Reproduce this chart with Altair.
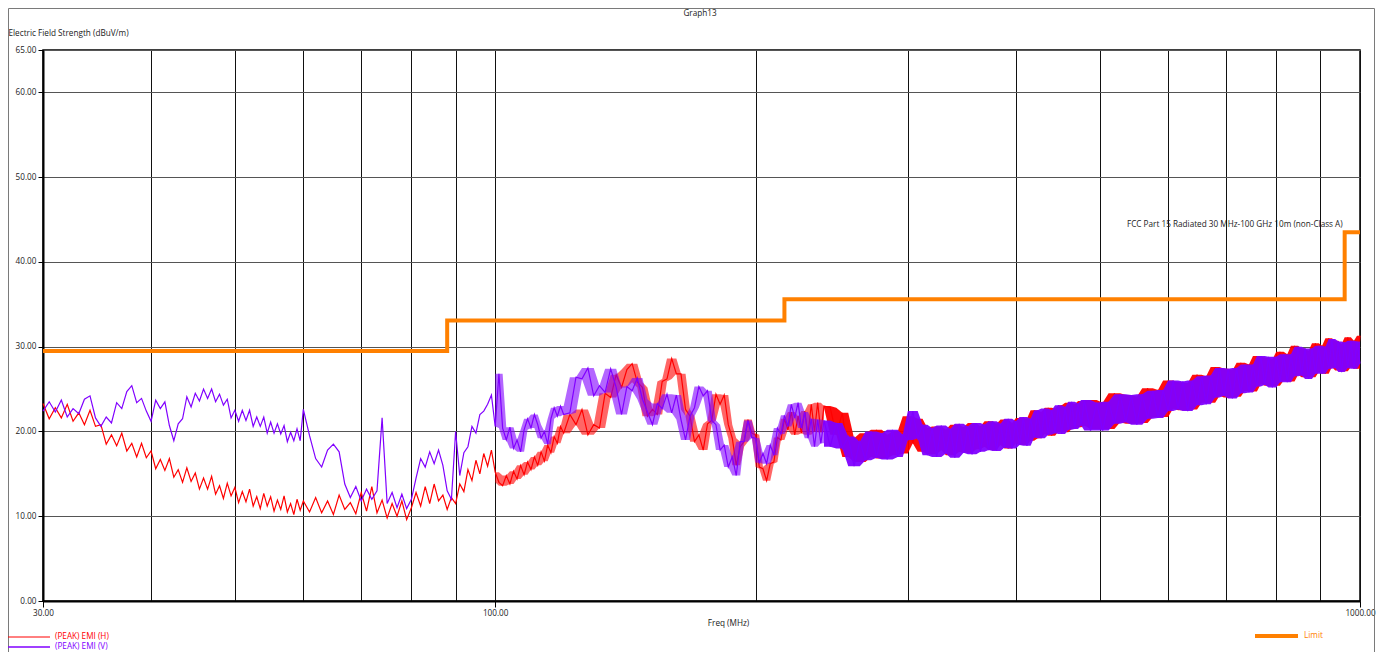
import altair as alt
import pandas as pd

# ---------------- sweep frequencies (MHz) ----------------
FREQ_30_60 = [30.0, 30.5, 31.0, 31.5, 32.0, 32.5, 33.0, 33.5, 34.0, 34.5, 35.0, 35.5,
              36.0, 36.5, 37.0, 37.5, 38.0, 38.5, 39.0, 39.5, 40.0, 40.5, 41.0, 41.5,
              42.0, 42.5, 43.0, 43.5, 44.0, 44.5, 45.0, 45.5, 46.0, 46.5, 47.0, 47.5,
              48.0, 48.5, 49.0, 49.5, 50.0, 50.5, 51.0, 51.5, 52.0, 52.5, 53.0, 53.5,
              54.0, 54.5, 55.0, 55.5, 56.0, 56.5, 57.0, 57.5, 58.0, 58.5, 59.0, 59.5, 60.0]
FREQ_61_120 = [61, 62, 63, 64, 65, 66, 67, 68, 69, 70, 71, 72, 73, 74, 75, 76, 77, 78, 79, 80,
               81, 82, 83, 84, 85, 86, 87, 88, 89, 90, 91, 92, 93, 94, 95, 96, 97, 98, 99, 100,
               101, 102, 103, 104, 105, 106, 107, 108, 109, 110, 111, 112, 113, 114, 115, 116,
               117, 118, 119, 120]
FREQ_122_240 = [122, 124, 126, 128, 130, 132, 134, 136, 138, 140, 142, 144, 146, 148, 150,
                152, 154, 156, 158, 160, 162, 164, 166, 168, 170, 172, 174, 176, 178, 180,
                182, 184, 186, 188, 190, 192, 194, 196, 198, 200, 202, 204, 206, 208, 210,
                212, 214, 216, 218, 220, 222, 224, 226, 228, 230, 232, 234, 236, 238, 240]
FREQ_244_480 = [244, 248, 252, 256, 260, 264, 268, 272, 276, 280, 284, 288, 292, 296, 300,
                304, 308, 312, 316, 320, 324, 328, 332, 336, 340, 344, 348, 352, 356, 360,
                364, 368, 372, 376, 380, 384, 388, 392, 396, 400, 404, 408, 412, 416, 420,
                424, 428, 432, 436, 440, 444, 448, 452, 456, 460, 464, 468, 472, 476, 480]
FREQ_488_1000 = [488, 496, 504, 512, 520, 528, 536, 544, 552, 560, 568, 576, 584, 592, 600,
                 608, 616, 624, 632, 640, 648, 656, 664, 672, 680, 688, 696, 704, 712, 720,
                 728, 736, 744, 752, 760, 768, 776, 784, 792, 800, 808, 816, 824, 832, 840,
                 848, 856, 864, 872, 880, 888, 896, 904, 912, 920, 928, 936, 944, 952, 960,
                 968, 976, 984, 992, 1000]

# ---------------- (PEAK) EMI (H) levels, dBuV/m ----------------
H_30_60 = [23.3, 21.5, 22.8, 21.6, 23.2, 21.2, 22.2, 20.8, 22.5, 20.6,
           20.8, 18.5, 19.6, 18.3, 19.8, 17.7, 18.6, 17.0, 18.6, 16.9,
           17.7, 15.6, 16.7, 15.4, 16.8, 14.6, 15.5, 14.0, 15.7, 14.1,
           15.1, 13.2, 14.5, 13.2, 14.7, 12.6, 13.6, 12.1, 13.9, 12.4,
           13.4, 11.6, 12.9, 11.7, 13.2, 11.2, 12.3, 10.9, 12.7, 11.2,
           12.3, 10.6, 11.9, 10.8, 12.4, 10.5, 11.5, 10.2, 12.0, 10.7, 11.8]
H_61_120 = [10.5, 12.2, 10.4, 11.8, 10.2, 12.5, 10.8, 11.6, 10.3, 12.8,
            10.6, 13.5, 10.4, 11.9, 9.8, 11.5, 10.0, 11.8, 9.6, 11.0,
            12.8, 11.2, 13.5, 11.5, 13.8, 11.8, 12.5, 10.8, 12.2, 11.5,
            13.8, 12.9, 15.5, 14.2, 16.6, 15.0, 17.4, 15.9, 17.8, 15.2,
            14.0, 13.6, 14.8, 13.8, 15.3, 14.4, 16.0, 14.9, 16.4, 15.5,
            17.0, 16.0, 17.6, 16.5, 18.4, 17.5, 19.4, 18.6, 20.6, 19.8]
H_122_240 = [22.0, 20.8, 22.6, 19.6, 20.8, 20.4, 24.5, 24.0, 26.7, 25.2,
             27.3, 28.0, 25.8, 25.2, 21.8, 22.6, 22.0, 25.9, 26.2, 28.6,
             26.8, 26.8, 22.6, 21.8, 18.8, 19.6, 17.8, 20.9, 21.3, 24.4,
             23.2, 24.3, 20.8, 19.2, 16.0, 18.2, 18.8, 21.4, 19.8, 19.6,
             15.8, 15.6, 14.2, 16.2, 16.4, 19.3, 19.0, 21.5, 20.2, 22.3,
             19.6, 21.8, 19.8, 22.4, 19.6, 23.2, 20.0, 23.4, 19.9, 23.0]
H_244_480 = [22.8, 19.6, 22.2, 17.0, 19.2, 16.4, 19.8, 17.0, 20.2, 16.8,
             19.6, 17.2, 20.0, 17.4, 21.8, 18.6, 21.5, 17.6, 20.4, 17.3,
             20.6, 17.8, 20.2, 17.2, 20.8, 17.6, 20.5, 17.5, 21.0, 17.9,
             20.6, 18.2, 21.2, 17.8, 20.9, 18.4, 21.4, 18.0, 21.0, 18.6,
             21.6, 18.4, 21.5, 18.9, 22.5, 19.2, 22.3, 19.7, 22.8, 19.5,
             22.7, 20.0, 23.1, 19.9, 23.4, 20.3, 23.2, 20.5, 23.6, 20.7]
H_488_1000 = [23.7, 20.3, 23.4, 20.3, 24.5, 21.1, 24.3, 20.9, 24.1, 21.0,
              25.1, 21.7, 24.9, 21.7, 26.0, 22.7, 25.8, 22.5, 25.7, 22.6,
              26.7, 23.4, 26.5, 23.4, 27.6, 24.2, 27.4, 24.0, 27.2, 24.1,
              28.1, 24.8, 27.9, 24.7, 28.9, 25.6, 28.7, 25.4, 28.5, 25.4,
              29.4, 26.0, 29.1, 25.9, 30.1, 26.7, 29.8, 26.4, 29.5, 26.4,
              30.4, 27.0, 30.1, 26.8, 31.0, 27.6, 30.7, 27.2, 30.3, 27.1,
              31.1, 27.6, 30.7, 27.4, 31.3]

# ---------------- (PEAK) EMI (V) levels, dBuV/m ----------------
V_30_60 = [22.4, 23.5, 22.3, 23.7, 21.7, 22.7, 22.1, 23.8, 24.2, 21.6,
           20.6, 21.7, 21.0, 23.4, 22.7, 24.7, 25.4, 23.4, 23.9, 22.4,
           21.2, 23.7, 22.7, 23.5, 20.7, 18.9, 20.9, 21.5, 24.1, 22.9,
           24.5, 23.6, 25.0, 23.9, 25.0, 23.5, 24.4, 23.1, 23.8, 21.6,
           22.5, 21.2, 22.5, 21.3, 22.5, 20.6, 21.7, 20.6, 21.7, 19.8,
           21.1, 19.8, 20.9, 19.7, 20.7, 18.8, 19.9, 18.9, 20.3, 18.9, 22.6]
V_61_120 = [19.5, 16.8, 15.8, 17.8, 18.5, 17.6, 13.8, 12.2, 13.5, 11.8,
            13.2, 12.0, 13.0, 21.6, 11.5, 12.8, 11.0, 12.6, 10.9, 12.0,
            14.5, 16.8, 15.8, 17.6, 16.2, 17.8, 16.0, 13.0, 12.0, 20.0,
            14.8, 17.5, 18.2, 20.6, 19.8, 22.0, 22.4, 23.2, 24.3, 20.6,
            26.8, 20.4, 19.0, 20.5, 18.0, 19.0, 17.6, 20.2, 21.5, 20.4,
            22.0, 20.8, 19.2, 20.0, 18.5, 21.5, 22.8, 21.8, 23.0, 22.0]
V_122_240 = [22.2, 26.4, 26.2, 27.5, 24.2, 25.4, 24.6, 27.4, 25.2, 22.0,
             25.3, 24.8, 26.3, 23.8, 22.3, 20.8, 23.3, 22.7, 24.4, 22.2,
             24.3, 21.4, 19.0, 21.8, 22.8, 25.3, 24.2, 24.8, 21.3, 20.8,
             17.8, 18.4, 15.8, 17.0, 14.8, 18.8, 18.8, 21.3, 19.3, 19.2,
             16.3, 17.4, 16.2, 18.4, 17.2, 20.4, 19.7, 21.9, 20.6, 23.2,
             21.6, 23.4, 20.4, 22.3, 19.2, 21.5, 18.2, 21.4, 18.6, 21.3]
V_244_480 = [18.2, 21.0, 18.0, 19.4, 15.9, 18.8, 16.6, 20.0, 16.9, 19.8,
             16.7, 20.2, 17.0, 19.6, 19.0, 22.4, 19.2, 20.8, 17.2, 20.4,
             17.0, 20.7, 17.4, 20.3, 16.9, 20.9, 17.5, 20.6, 17.3, 21.0,
             17.6, 20.8, 17.8, 21.2, 17.7, 20.9, 18.1, 21.5, 18.0, 21.2,
             18.4, 21.7, 18.3, 21.5, 19.3, 22.5, 19.2, 22.7, 19.6, 22.5,
             19.8, 23.1, 19.7, 22.9, 20.2, 23.5, 20.3, 23.3, 20.7, 23.7]
V_488_1000 = [20.1, 23.4, 20.1, 23.5, 20.9, 24.4, 21.1, 24.3, 20.8, 24.4,
              21.5, 24.8, 21.6, 24.9, 22.4, 26.0, 22.6, 25.9, 22.4, 26.0,
              23.1, 26.5, 23.2, 26.6, 24.0, 27.5, 24.2, 27.4, 23.9, 27.5,
              24.5, 27.9, 24.6, 27.9, 25.3, 28.9, 25.5, 28.8, 25.2, 28.8,
              25.8, 29.1, 25.8, 29.1, 26.5, 30.0, 26.6, 29.8, 26.2, 29.8,
              26.8, 30.1, 26.8, 30.0, 27.4, 30.9, 27.5, 30.6, 27.0, 30.5,
              27.5, 30.7, 27.4, 30.6, 28.0]

# ---------------- limit line ----------------
LIMIT_FREQ = [30, 88, 216, 960, 1000]
LIMIT_DB = [29.5, 33.1, 35.6, 43.5, 43.5]
LIMIT_NAME = "FCC Part 15 Radiated 30 MHz-100 GHz 10m (non-Class A)"

# ---------------- axes ----------------
X_GRID = [30, 40, 50, 60, 70, 80, 90, 100, 200, 300, 400, 500, 600, 700, 800, 900, 1000]
Y_TICKS = [0, 10, 20, 30, 40, 50, 60, 65]

SERIES_H = "(PEAK) EMI (H)"
SERIES_V = "(PEAK) EMI (V)"
LIMIT_LABEL = "Limit"
TITLE = "Graph13"

FREQ = FREQ_30_60 + FREQ_61_120 + FREQ_122_240 + FREQ_244_480 + FREQ_488_1000
EMI_H = H_30_60 + H_61_120 + H_122_240 + H_244_480 + H_488_1000
EMI_V = V_30_60 + V_61_120 + V_122_240 + V_244_480 + V_488_1000

df_h = pd.DataFrame({"freq": FREQ, "level": EMI_H})
df_v = pd.DataFrame({"freq": FREQ, "level": EMI_V})
df_lim = pd.DataFrame({"freq": LIMIT_FREQ, "level": LIMIT_DB})
df_note = pd.DataFrame({"freq": [955], "level": [44.4], "label": [LIMIT_NAME]})
one = pd.DataFrame({"k": [0]})

FONT = "Open Sans"
FS = 8.2
RED = "#FF0000"
PURPLE = "#8000FF"
ORANGE = "#FF8000"
TXT = "#1a1a1a"
W, H = 1317, 551

LABELED = "datum.value == 30 || datum.value == 100 || datum.value == 1000"

x_scale = alt.Scale(type="log", domain=[30, 1000], nice=False)
y_scale = alt.Scale(domain=[0, 65], nice=False, zero=False)

x_axis = alt.Axis(
    values=X_GRID,
    title="Freq (MHz)",
    labelExpr="(" + LABELED + ") ? format(datum.value, '.2f') : ''",
    labelFlush=False,
    labelOverlap=False,
    labelFont=FONT,
    labelFontSize=FS,
    labelColor=TXT,
    labelPadding=2,
    grid=True,
    gridColor="#111111",
    gridWidth=1,
    tickColor={"condition": {"test": LABELED, "value": "black"}, "value": "transparent"},
    tickSize=6,
    domainColor="black",
    domainWidth=2,
    titleFont=FONT,
    titleFontSize=FS,
    titleFontWeight="normal",
    titleColor=TXT,
    titleX=685,
    titleY=22,
    titleAlign="center",
    titleBaseline="middle",
)
y_axis = alt.Axis(
    values=Y_TICKS,
    format=".2f",
    title="Electric Field Strength (dBuV/m)",
    titleAngle=0,
    titleAlign="left",
    titleBaseline="middle",
    titleX=-35,
    titleY=-17,
    titleFont=FONT,
    titleFontSize=FS,
    titleFontWeight="normal",
    titleColor=TXT,
    labelFont=FONT,
    labelFontSize=FS,
    labelColor=TXT,
    labelPadding=2,
    labelOverlap=False,
    grid=True,
    gridColor="#555555",
    gridWidth=1.2,
    tickColor="black",
    tickSize=5,
    domainColor="black",
    domainWidth=2,
)

x_enc = alt.X("freq:Q", scale=x_scale, axis=x_axis)
y_enc = alt.Y("level:Q", scale=y_scale, axis=y_axis)

border = alt.Chart(one).mark_rect(fillOpacity=0, stroke="#7a7a7a", strokeWidth=1).encode(
    x=alt.value(-34.5), x2=alt.value(1331.5), y=alt.value(-41.5), y2=alt.value(640)
)

# (lower MHz, upper MHz, fill opacity): the sweep gets denser with frequency
BAND_TIERS = [(100, 240, 0.6), (240, 1001, 0.95)]


def trace(df, color):
    """Noisy trace: the line itself plus the fill between its running
    local min and max (how the dense sweep reads on screen)."""
    layers = []
    for lo_f, hi_f, op in BAND_TIERS:
        layers.append(
            alt.Chart(df)
            .transform_filter(f"datum.freq >= {lo_f} && datum.freq <= {hi_f}")
            .transform_window(lo="min(level)", hi="max(level)", frame=[-1, 1],
                              sort=[alt.SortField("freq")])
            .mark_area(color=color, opacity=op, strokeWidth=0)
            .encode(x=x_enc, y=alt.Y("lo:Q", scale=y_scale, axis=y_axis), y2="hi:Q")
        )
    layers.append(
        alt.Chart(df).mark_line(color=color, strokeWidth=1.2).encode(x=x_enc, y=y_enc)
    )
    return alt.layer(*layers)


line_h = trace(df_h, RED)
line_v = trace(df_v, PURPLE)
limit = alt.Chart(df_lim).mark_line(
    color=ORANGE, strokeWidth=4, interpolate="step-after", strokeJoin="miter"
).encode(x=x_enc, y=y_enc)
note = alt.Chart(df_note).mark_text(
    align="right", baseline="middle", font=FONT, fontSize=FS, color=TXT
).encode(x=x_enc, y=y_enc, text="label:N")

title = alt.Chart(pd.DataFrame({"t": [TITLE]})).mark_text(
    align="center", baseline="middle", font=FONT, fontSize=FS, color=TXT
).encode(x=alt.value(657), y=alt.value(-36.5), text="t:N")


def legend_entry(label, color, x0, x1, xt, y, width):
    d = pd.DataFrame({"label": [label]})
    rule = alt.Chart(d).mark_rule(color=color, strokeWidth=width).encode(
        x=alt.value(x0), x2=alt.value(x1), y=alt.value(y)
    )
    txt = alt.Chart(d).mark_text(
        align="left", baseline="middle", font=FONT, fontSize=FS, color=color
    ).encode(x=alt.value(xt), y=alt.value(y), text="label:N")
    return rule + txt


leg_h = legend_entry(SERIES_H, RED, -35, 7, 12, 587, 1)
leg_v = legend_entry(SERIES_V, PURPLE, -35, 7, 12, 597, 1.5)
leg_l = legend_entry(LIMIT_LABEL, ORANGE, 1212, 1255, 1261, 586, 4)

chart = alt.layer(
    border, line_h, line_v, limit, note, title, leg_h, leg_v, leg_l
).properties(
    width=W,
    height=H,
    padding={"left": 35, "top": 42, "right": 16, "bottom": 51},
    autosize=alt.AutoSizeParams(type="none"),
    background="white",
).configure_view(stroke="black", strokeWidth=1.5)

chart.save("out.html", embed_options={"renderer": "svg", "actions": False})
